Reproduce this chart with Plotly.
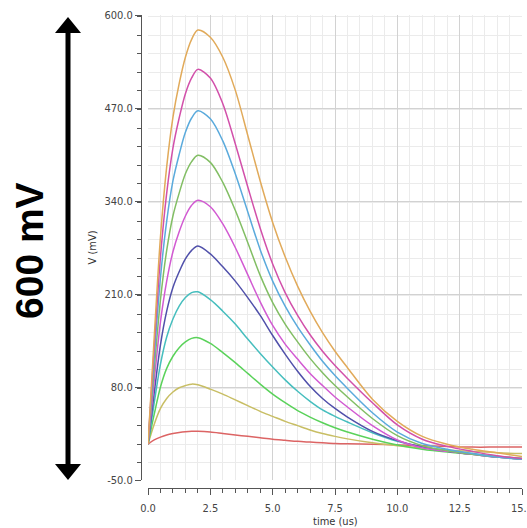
import plotly.graph_objects as go

# time axis (us)
time_us = [0, 0.25, 0.5, 0.75, 1, 1.25, 1.5, 1.75, 2, 2.5, 3, 3.5, 4, 4.5, 5, 5.5,
           6, 6.5, 7, 7.5, 8, 9, 10, 11, 12, 13, 14, 15]

# voltage traces (mV), bottom to top
v_red = [0, 6, 10, 13, 15, 16.5, 17.5, 18, 18, 17, 15, 13, 11, 9, 7, 5.5,
         4, 3, 2, 1, 0.5, 0, -1, -2, -3, -4, -4, -4]
v_olive = [0, 28, 50, 64, 73, 79, 82, 84, 83, 77, 70, 62, 54, 46, 39, 32,
           26, 20, 15, 11, 7.5, 2, -2, -5, -8, -10, -12, -13]
v_green = [0, 42, 80, 106, 123, 135, 143, 148, 149, 141, 128, 114, 99, 84, 70, 58,
           47, 38, 30, 23, 17, 7, -1, -7, -11, -14, -17, -20]
v_teal = [0, 58, 112, 150, 175, 193, 205, 212, 213, 202, 186, 168, 147, 127, 108, 90,
          74, 60, 48, 39, 31, 16, 4, -4, -9, -13, -17, -20]
v_navy = [0, 72, 139, 186, 219, 241, 259, 271, 277, 266, 248, 228, 205, 180, 152, 126,
          102, 81, 64, 50, 38, 18, 5, -4, -10, -14, -18, -21]
v_magenta = [0, 89, 171, 228, 269, 297, 319, 334, 341, 332, 308, 275, 237, 199, 166, 140,
             119, 99, 82, 66, 52, 26, 6, -5, -10, -14, -18, -21]
v_lgreen = [0, 105, 202, 271, 319, 351, 378, 395, 404, 394, 366, 327, 282, 236, 198, 168,
            143, 120, 100, 82, 66, 36, 12, -2, -9, -14, -18, -21]
v_lblue = [0, 121, 233, 312, 368, 405, 436, 456, 466, 455, 424, 378, 325, 272, 228, 193,
           164, 139, 116, 96, 78, 44, 17, 1, -7, -13, -18, -21]
v_pink = [0, 136, 262, 351, 414, 456, 490, 512, 524, 512, 476, 420, 360, 302, 252, 212,
          180, 153, 130, 110, 92, 58, 27, 7, -3, -10, -16, -20]
v_orange = [0, 150, 290, 388, 457, 504, 541, 566, 579, 569, 541, 495, 432, 368, 310, 262,
            221, 186, 156, 130, 107, 63, 32, 11, 0, -7, -12, -17]

series = [v_red, v_olive, v_green, v_teal, v_navy, v_magenta, v_lgreen, v_lblue, v_pink, v_orange]
colors = ["#dc6464", "#c8be64", "#5ad25a", "#46bebe", "#5050aa",
          "#d25ad2", "#82be64", "#5aaadc", "#d250aa", "#e1aa5a"]

y_ticks = [600, 470, 340, 210, 80, -50]
x_ticks = [0, 2.5, 5, 7.5, 10, 12.5, 15]

W, H = 527, 528
ML, MR, MT, MB = 141, 5, 15, 40
PW, PH = W - ML - MR, H - MT - MB

def px(x):
    return (x - ML) / PW

def py(y):
    return (H - MB - y) / PH

fig = go.Figure()
for v, c in zip(series, colors):
    fig.add_trace(go.Scatter(x=time_us, y=v, mode="lines",
                             line=dict(color=c, width=1.5, shape="spline", smoothing=0.9),
                             showlegend=False, hoverinfo="skip"))

FAM = "Liberation Sans Narrow, DejaVu Sans Condensed, Liberation Sans"
tickfont = dict(family=FAM, size=11, color="#444444")
titlefont = dict(family=FAM, size=11, color="#333333")
fig.update_layout(
    width=W, height=H,
    margin=dict(l=ML, r=MR, t=MT, b=MB, autoexpand=False),
    paper_bgcolor="white", plot_bgcolor="white",
    xaxis=dict(
        domain=[px(148), 1], anchor="free", position=0, automargin=False,
        range=[0, 15], tickvals=x_ticks, ticktext=[f"{t:.1f}" for t in x_ticks],
        ticks="outside", ticklen=6, tickcolor="#555555", tickwidth=1,
        ticklabelstandoff=4, ticklabeloverflow="allow",
        showline=True, linecolor="#555555", linewidth=1,
        showgrid=True, gridcolor="#d2d2d2", gridwidth=1, zeroline=False,
        minor=dict(dtick=0.5, ticks="outside", ticklen=4, tickcolor="#555555",
                   showgrid=True, gridcolor="#ebebeb", gridwidth=1),
        tickfont=tickfont,
    ),
    yaxis=dict(
        domain=[py(480), 1], anchor="free", position=0, automargin=False,
        range=[-50, 600], tickvals=y_ticks, ticktext=[f"{t:.1f}" for t in y_ticks],
        ticks="outside", ticklen=6, tickcolor="#555555", tickwidth=1,
        ticklabeloverflow="allow",
        showline=True, linecolor="#555555", linewidth=1,
        showgrid=True, gridcolor="#d2d2d2", gridwidth=1, zeroline=False,
        minor=dict(dtick=26, ticks="outside", ticklen=4, tickcolor="#555555",
                   showgrid=True, gridcolor="#ebebeb", gridwidth=1),
        tickfont=tickfont,
        title=dict(text="V (mV)", font=titlefont, standoff=4),
    ),
)

# x-axis title placed below the tick labels
fig.add_annotation(xref="paper", yref="paper", x=px(335), y=py(521),
                   text="time (us)", showarrow=False, font=titlefont,
                   xanchor="center", yanchor="middle")

# big double arrow + label on the left
ax_x = 68
fig.add_shape(type="line", xref="paper", yref="paper",
              x0=px(ax_x), x1=px(ax_x), y0=py(30), y1=py(466),
              line=dict(color="black", width=5))
fig.add_shape(type="path", xref="paper", yref="paper",
              path=f"M {px(ax_x-13)} {py(33)} L {px(ax_x)} {py(17)} L {px(ax_x+13)} {py(33)} Z",
              fillcolor="black", line=dict(color="black", width=0))
fig.add_shape(type="path", xref="paper", yref="paper",
              path=f"M {px(ax_x-13)} {py(464)} L {px(ax_x)} {py(480)} L {px(ax_x+13)} {py(464)} Z",
              fillcolor="black", line=dict(color="black", width=0))
fig.add_annotation(xref="paper", yref="paper", x=px(29), y=py(251),
                   text="<b>600 mV</b>", textangle=-90, showarrow=False,
                   font=dict(family="Liberation Sans", size=39, color="black"),
                   xanchor="center", yanchor="middle")

fig.write_html("out.html")
